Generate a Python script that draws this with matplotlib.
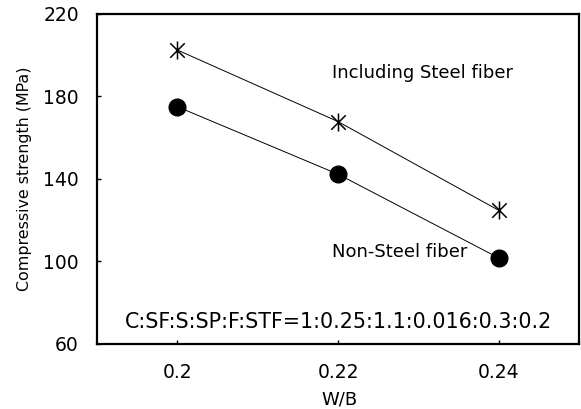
import matplotlib
matplotlib.use("Agg")
import matplotlib.pyplot as plt
from matplotlib.path import Path

plt.rcParams['font.family'] = ['DejaVu Sans']

wb = [0.20, 0.22, 0.24]
steel_fiber = [202.5, 167.8, 124.8]
non_steel = [175.0, 142.3, 101.7]
yticks = [60, 100, 140, 180, 220]
xticks = [0.20, 0.22, 0.24]
xticklabels = ["0.2", "0.22", "0.24"]

# asterisk marker: vertical stroke plus an X
star = Path([(0, -1), (0, 1), (-0.8, -0.8), (0.8, 0.8), (-0.8, 0.8), (0.8, -0.8)],
            [Path.MOVETO, Path.LINETO, Path.MOVETO, Path.LINETO, Path.MOVETO, Path.LINETO])

fig = plt.figure(figsize=(5.81, 4.09), dpi=100)
ax = fig.add_axes([0.167, 0.159, 0.8296, 0.807])

ax.plot(wb, steel_fiber, color='black', lw=0.7, marker=star, ms=13,
        mew=1.1, mec='black')
ax.plot(wb, non_steel, color='black', lw=0.7, marker='o', ms=12,
        mfc='black', mec='black')

ax.set_xlim(0.19, 0.25)
ax.set_ylim(60, 220)
ax.set_xticks(xticks)
ax.set_xticklabels(xticklabels)
ax.set_yticks(yticks)
ax.tick_params(axis='both', direction='in', length=3, width=1, labelsize=13.5)
ax.tick_params(axis='y', pad=13)
ax.tick_params(axis='x', pad=14)
for s in ax.spines.values():
    s.set_linewidth(1.6)

ax.set_ylabel("Compressive strength (MPa)", fontsize=11.4)
ax.set_xlabel("W/B", fontsize=13)
ax.yaxis.set_label_coords(-0.135, 0.5)
ax.xaxis.set_label_coords(0.502, -0.140)

ax.text(0.487, 0.82, "Including Steel fiber", transform=ax.transAxes,
        fontsize=13, ha='left', va='center')
ax.text(0.487, 0.278, "Non-Steel fiber", transform=ax.transAxes,
        fontsize=13, ha='left', va='center')
ax.text(0.502, 0.067, "C:SF:S:SP:F:STF=1:0.25:1.1:0.016:0.3:0.2",
        transform=ax.transAxes, fontsize=14.9, ha='center', va='center')

fig.savefig("out.png", dpi=100)
